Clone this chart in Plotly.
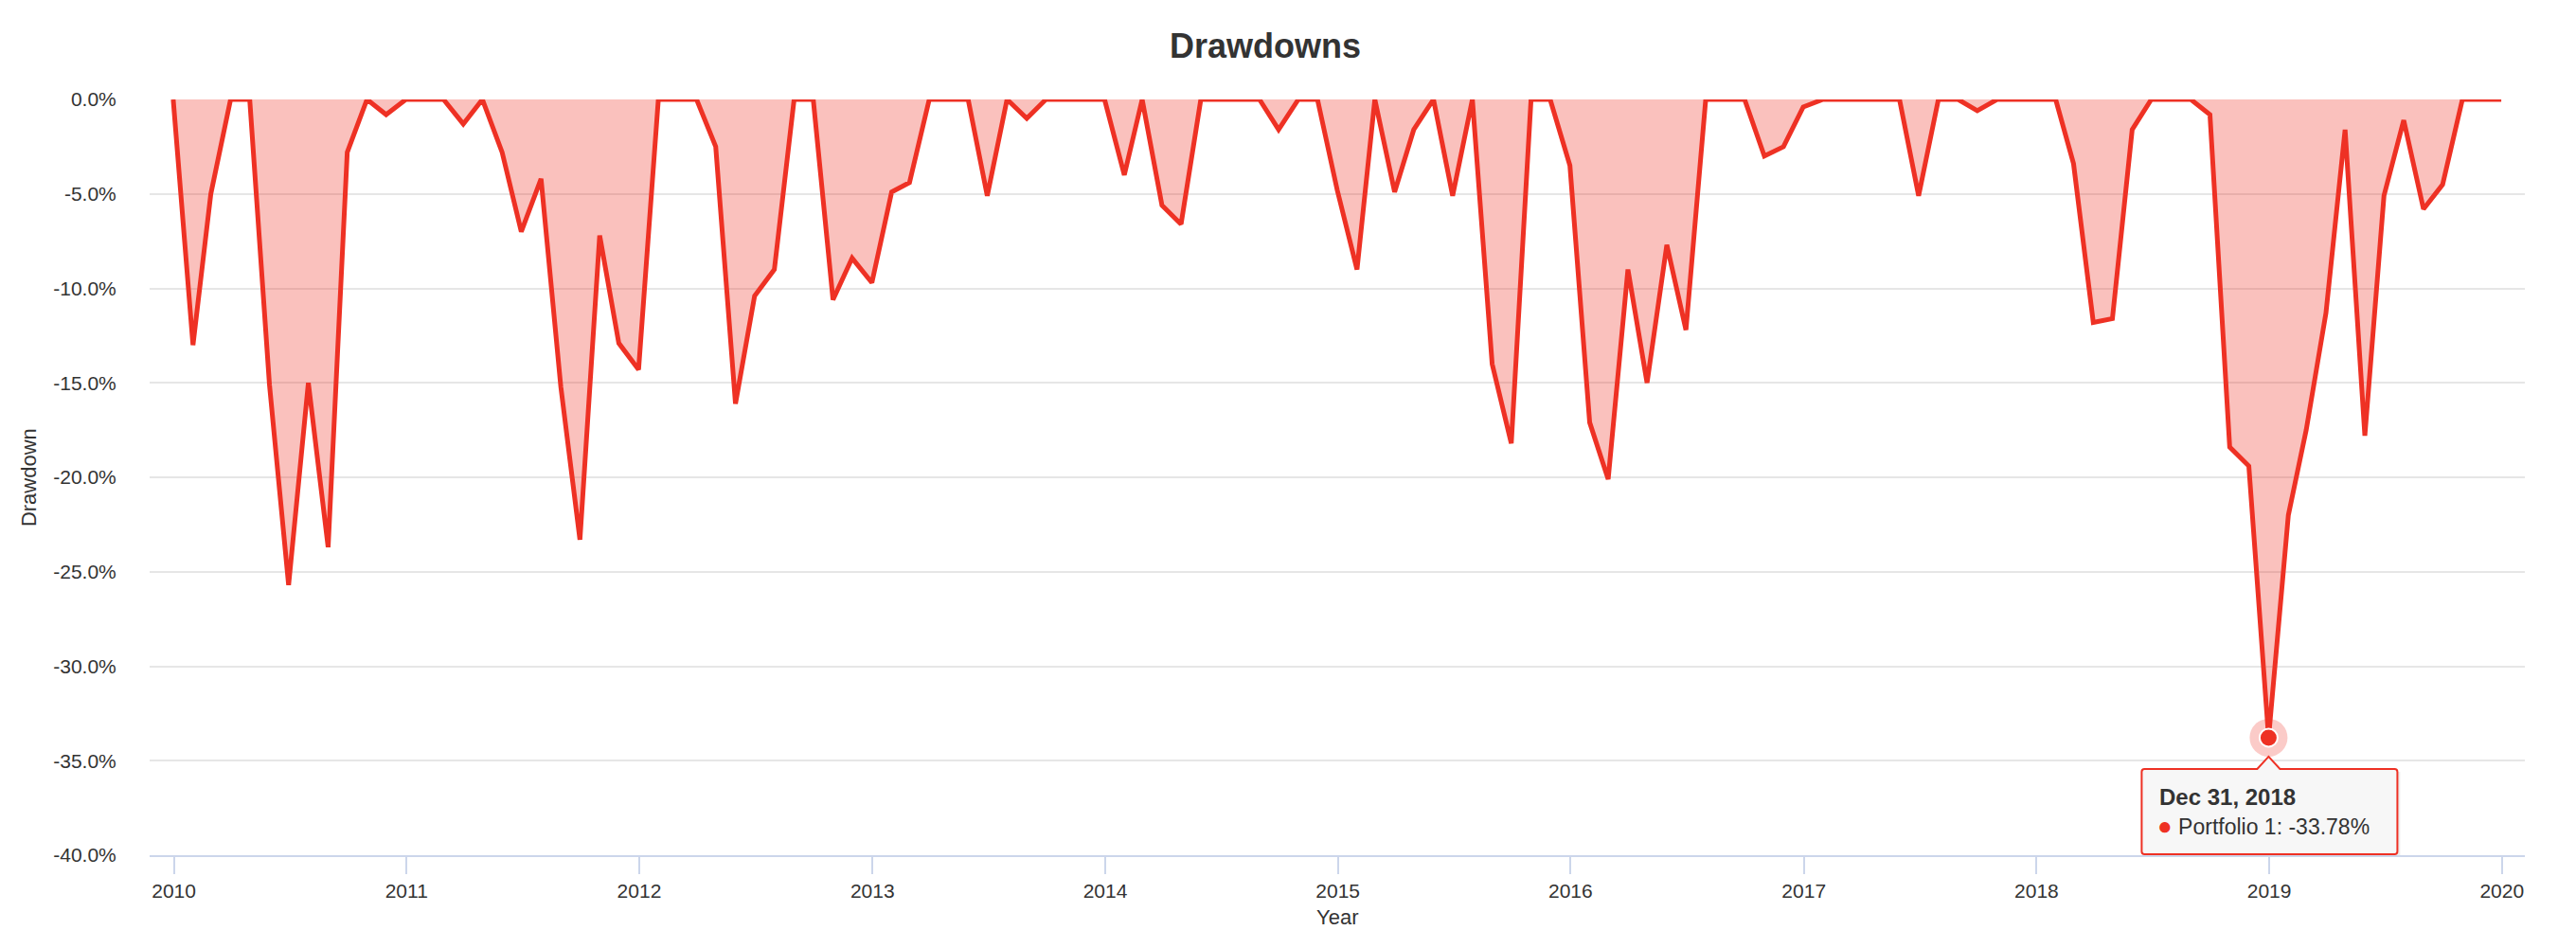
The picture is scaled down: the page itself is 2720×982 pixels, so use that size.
import pandas as pd
import plotly.graph_objects as go

# ---------------- data ----------------
dates = pd.date_range("2009-12-31", periods=121, freq="ME")
drawdown = [
    0, -13.0, -5.0, 0, 0, -15.1, -25.7, -15.0, -23.7, -2.8, 0, -0.8,
    0, 0, 0, -1.3, 0, -2.8, -7.0, -4.2, -15.2, -23.3, -7.2, -12.9,
    -14.3, 0, 0, 0, -2.5, -16.1, -10.4, -9.0, 0, 0, -10.6, -8.4,
    -9.7, -4.9, -4.4, 0, 0, 0, -5.1, 0, -1.0, 0, 0, 0,
    0, -4.0, 0, -5.6, -6.6, 0, 0, 0, 0, -1.6, 0, 0,
    -4.8, -9.0, 0, -4.9, -1.6, 0, -5.1, 0, -14.0, -18.2, 0, 0,
    -3.5, -17.1, -20.1, -9.0, -15.0, -7.7, -12.2, 0, 0, 0, -3.0, -2.5,
    -0.4, 0, 0, 0, 0, 0, -5.1, 0, 0, -0.6, 0, 0,
    0, 0, -3.4, -11.8, -11.6, -1.6, 0, 0, 0, -0.8, -18.4, -19.4,
    -33.78, -22.0, -17.5, -11.3, -1.6, -17.8, -5.1, -1.1, -5.8, -4.5, 0, 0,
    0,
]
series_name = "Portfolio 1"
y_tick_values = [0, -5, -10, -15, -20, -25, -30, -35, -40]
y_tick_labels = ["0.0%", "-5.0%", "-10.0%", "-15.0%", "-20.0%", "-25.0%",
                 "-30.0%", "-35.0%", "-40.0%"]
x_tick_values = pd.date_range("2010-01-01", periods=11, freq="YS")
x_tick_labels = [str(d.year) for d in x_tick_values]

# ---------------- style ----------------
RED = "#ee3124"
FILL = "rgba(238,49,36,0.30)"
FONT = "Liberation Sans, Helvetica, Arial, sans-serif"
TXT = "#333333"
GRID = "#e6e6e6"
AXIS = "#ccd6eb"

hi = min(range(len(drawdown)), key=lambda i: drawdown[i])
hx, hy = dates[hi], drawdown[hi]

fig = go.Figure()
fig.add_trace(go.Scatter(
    x=dates, y=drawdown, mode="lines", name=series_name,
    line=dict(color=RED, width=5), fill="tozeroy", fillcolor=FILL,
    hovertemplate="%{x|%b %d, %Y}<br>" + series_name + ": %{y:.2f}%<extra></extra>",
))
# highlighted point with halo
fig.add_trace(go.Scatter(x=[hx], y=[hy], mode="markers", hoverinfo="skip",
                         marker=dict(size=40, color="rgba(238,49,36,0.25)"), showlegend=False))
fig.add_trace(go.Scatter(x=[hx], y=[hy], mode="markers", hoverinfo="skip",
                         marker=dict(size=19, color=RED, line=dict(color="white", width=2)),
                         showlegend=False))

pad = pd.Timedelta(days=37)

# tooltip box (pixel-sized shape anchored to the highlighted point)
box_path = ("M -131,-33 L -12,-33 L 0,-20 L 12,-33 L 133,-33 Q 136,-33 136,-36 "
            "L 136,-120 Q 136,-123 133,-123 L -131,-123 Q -134,-123 -134,-120 "
            "L -134,-36 Q -134,-33 -131,-33 Z")
shadow_path = ("M -129,-36 L 139,-36 L 139,-126 L -129,-126 Z")
fig.add_shape(type="path", xref="x", yref="y", xsizemode="pixel", ysizemode="pixel",
              xanchor=hx, yanchor=hy, path=shadow_path,
              fillcolor="rgba(0,0,0,0.07)", line=dict(width=0), layer="above")
fig.add_shape(type="path", xref="x", yref="y", xsizemode="pixel", ysizemode="pixel",
              xanchor=hx, yanchor=hy, path=box_path,
              fillcolor="#f7f7f7", line=dict(color=RED, width=2), layer="above")

fig.add_annotation(x=hx, y=hy, xref="x", yref="y", showarrow=False,
                   xanchor="left", yanchor="middle", xshift=-117, yshift=-63,
                   text="<b>" + hx.strftime("%b %d, %Y") + "</b>",
                   font=dict(family=FONT, size=24, color=TXT))
fig.add_annotation(x=hx, y=hy, xref="x", yref="y", showarrow=False,
                   xanchor="left", yanchor="middle", xshift=-119, yshift=-93,
                   text=("<span style='color:%s;font-size:26px'>●</span> %s: %.2f%%"
                         % (RED, series_name, hy)),
                   font=dict(family=FONT, size=23, color=TXT))

# axis titles
fig.add_annotation(text="Year", xref="paper", yref="paper", x=0.5, y=-0.0815,
                   xanchor="center", yanchor="middle", showarrow=False,
                   font=dict(family=FONT, size=22, color=TXT))
fig.add_annotation(text="Drawdown", xref="paper", yref="paper", x=-0.051, y=0.5,
                   xanchor="center", yanchor="middle", showarrow=False, textangle=-90,
                   font=dict(family=FONT, size=22, color=TXT))

fig.update_layout(
    width=2720, height=982,
    margin=dict(l=150, r=62, t=97, b=87, autoexpand=False),
    paper_bgcolor="white", plot_bgcolor="white",
    showlegend=False,
    font=dict(family=FONT, color=TXT, size=21),
    title=dict(text="<b>Drawdowns</b>", x=1328 / 2720, xanchor="center", xref="container",
               y=1 - 40 / 982, yanchor="middle", yref="container",
               font=dict(family=FONT, size=36, color=TXT)),
    xaxis=dict(
        type="date", automargin=False,
        range=[dates[0] - pad, dates[-1] + pad],
        tickvals=x_tick_values, ticktext=x_tick_labels,
        ticks="outside", ticklen=18, tickwidth=2, tickcolor=AXIS,
        showline=True, linecolor=AXIS, linewidth=2,
        showgrid=False, zeroline=False,
        tickfont=dict(family=FONT, size=21, color=TXT),
    ),
    yaxis=dict(
        range=[-40, 0], automargin=False,
        tickvals=y_tick_values, ticktext=y_tick_labels,
        ticks="outside", ticklen=30, tickcolor="rgba(0,0,0,0)",
        showgrid=True, gridcolor=GRID, gridwidth=2,
        zeroline=False, showline=False,
        tickfont=dict(family=FONT, size=21, color=TXT),
    ),
)

fig.write_html("out.html")
